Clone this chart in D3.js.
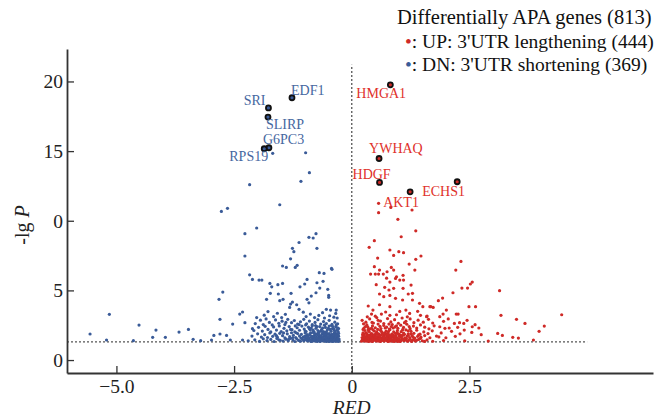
<!DOCTYPE html>
<html>
<head>
<meta charset="utf-8">
<script src="https://cdn.jsdelivr.net/npm/d3@7"></script>
<style>
    body { margin: 0; background: #fff; }
    #chart { width: 668px; height: 418px; }
    text { font-family: "Liberation Serif", "Times New Roman", serif; }
</style>
</head>
<body>
<div id="chart"></div>
<script>

// tick labels as printed in the figure
let xTickValues = [-5, -2.5, 0, 2.5]
let xTickLabels = ["\u22125.0", "\u22122.5", "0", "2.5"]
let yTickValues = [0, 5, 10, 15, 20]
let yTickLabels = ["0", "5", "0", "15", "20"]

// legend text
let legendTitle = "Differentially APA genes (813)"
let legendItems = [": UP: 3'UTR lengthening (444)", ": DN: 3'UTR shortening (369)"]

// threshold, -lg(0.05)
let pThreshold = 1.3

// labelled genes [name, RED, -lg P]
let upGenes = [
    ["HMGA1", 0.82, 19.76],
    ["YWHAQ", 0.58, 14.47],
    ["HDGF", 0.59, 12.75],
    ["AKT1", 1.24, 12.08],
    ["ECHS1", 2.24, 12.80]
]
let dnGenes = [
    ["EDF1", -1.27, 18.83],
    ["SRI", -1.77, 18.10],
    ["SLIRP", -1.78, 17.44],
    ["G6PC3", -1.76, 15.24],
    ["RPS19", -1.86, 15.17]
]

// DN genes (3'UTR shortening) [RED, -lg P]
let dnPoints = [
    [-5.56,1.87],[-5.21,1.44],[-5.15,3.28],[-4.64,1.39],[-4.52,2.51],[-4.23,1.63],[-4.16,2.15],[-3.96,1.63],
    [-3.67,2.01],[-3.47,2.20],[-3.37,1.49],[-3.21,1.39],[-2.98,1.44],[-2.93,1.77],[-2.80,1.87],[-2.80,2.92],
    [-2.82,4.36],[-2.74,4.88],[-2.66,1.77],[-2.58,1.44],[-2.53,2.58],[-2.38,3.30],[-2.32,3.45],[-2.27,2.68],
    [-2.32,1.44],[-2.17,6.12],[-2.11,5.79],[-2.11,2.25],[-1.97,5.74],[-1.91,5.74],[-1.74,5.50],[-1.70,5.26],
    [-1.57,5.41],[-1.47,5.50],[-1.47,6.75],[-1.39,6.65],[-1.20,6.65],[-1.16,6.80],[-1.81,4.36],[-1.73,4.79],
    [-1.56,4.74],[-1.53,4.26],[-1.46,4.36],[-1.29,4.79],[-1.10,5.26],[-1.00,5.46],[-0.95,5.79],[-0.69,6.27],
    [-0.59,6.22],[-0.42,6.51],[-0.61,5.65],[-0.51,5.08],[-0.74,5.55],[-0.68,5.17],[-0.49,4.64],[-0.49,4.50],
    [-0.76,4.83],[-0.86,4.59],[-0.95,4.36],[-0.91,4.11],[-1.26,4.16],[-1.30,4.02],[-1.32,3.78],[-1.17,3.97],
    [-1.12,3.64],[-0.33,3.59],[-0.34,3.35],[-0.45,3.59],[-0.54,3.64],[-0.62,3.40],
    [-1.68,14.84],[-0.98,14.88],[-0.90,13.45],[-1.08,12.83],[-2.17,12.59],[-1.53,11.15],[-2.77,10.67],
    [-2.64,10.89],[-2.02,9.48],[-2.27,9.07],[-0.76,9.07],[-0.91,8.81],[-0.82,8.76],[-1.12,8.44],[-1.26,8.02],
    [-1.23,7.78],[-0.74,8.02],[-2.27,7.47],[-1.30,7.27],[-0.43,6.58],
    [-2.02,3.05],[-1.86,3.22],[-1.78,3.48],[-1.66,3.12],[-1.58,3.36],[-1.49,3.05],[-1.41,3.28],[-1.03,3.44],
    [-0.97,3.12],[-0.88,3.30],[-0.79,3.05],[-0.70,3.20],[-0.58,3.02],[-0.47,3.18],[-0.38,3.08],[-0.31,3.02],
    [-2.05,2.62],[-1.94,2.86],[-1.88,2.55],[-1.82,2.95],[-1.75,2.70],[-1.69,2.52],[-1.62,2.88],[-1.55,2.64],
    [-1.48,2.79],[-1.42,2.55],[-1.36,2.92],[-1.28,2.68],[-1.22,2.84],[-1.15,2.58],[-1.09,2.75],[-1.02,2.92],
    [-0.96,2.60],[-0.90,2.80],[-0.84,2.54],[-0.78,2.70],[-0.72,2.90],[-0.66,2.58],[-0.60,2.76],[-0.54,2.62],
    [-0.48,2.85],[-0.42,2.56],[-0.36,2.72],[-0.30,2.60],
    [-2.08,2.12],[-1.98,2.35],[-1.90,2.08],[-1.84,2.42],[-1.78,2.20],[-1.72,2.02],[-1.66,2.38],[-1.60,2.15],
    [-1.54,2.45],[-1.50,2.05],[-1.44,2.28],[-1.38,2.10],[-1.33,2.40],[-1.27,2.18],[-1.21,2.02],[-1.16,2.32],
    [-1.11,2.14],[-1.06,2.44],[-1.01,2.22],[-0.97,2.05],[-0.92,2.36],[-0.88,2.16],[-0.84,2.46],[-0.80,2.02],
    [-0.76,2.28],[-0.72,2.12],[-0.68,2.40],[-0.64,2.20],[-0.60,2.04],[-0.56,2.34],[-0.52,2.15],[-0.48,2.44],
    [-0.44,2.06],[-0.41,2.26],[-0.37,2.12],[-0.34,2.38],[-0.31,2.18],[-0.29,2.05],
    [-2.12,1.72],[-2.00,1.88],[-1.92,1.65],[-1.85,1.82],[-1.79,1.62],[-1.74,1.95],[-1.68,1.70],[-1.63,1.86],
    [-1.58,1.64],[-1.53,1.92],[-1.47,1.75],[-1.42,1.60],[-1.37,1.88],[-1.32,1.68],[-1.28,1.96],[-1.24,1.78],
    [-1.19,1.62],[-1.15,1.90],[-1.11,1.72],[-1.07,1.85],[-1.03,1.64],[-0.99,1.94],[-0.96,1.76],[-0.92,1.62],
    [-0.89,1.88],[-0.85,1.70],[-0.82,1.98],[-0.79,1.80],[-0.75,1.65],[-0.72,1.92],[-0.69,1.74],[-0.66,1.60],
    [-0.63,1.86],[-0.60,1.68],[-0.57,1.96],[-0.54,1.78],[-0.51,1.62],[-0.48,1.90],[-0.45,1.72],[-0.42,1.84],
    [-0.40,1.64],[-0.37,1.94],[-0.35,1.76],[-0.32,1.66],[-0.30,1.86],[-0.28,1.70],
    [-2.20,1.38],[-2.06,1.45],[-1.96,1.34],[-1.88,1.52],[-1.80,1.40],[-1.72,1.48],[-1.65,1.33],[-1.59,1.55],
    [-1.52,1.42],[-1.46,1.36],[-1.40,1.50],[-1.35,1.39],[-1.30,1.56],[-1.25,1.44],[-1.21,1.33],[-1.17,1.52],
    [-1.13,1.41],[-1.09,1.35],[-1.05,1.50],[-1.01,1.42],[-0.98,1.56],[-0.94,1.37],[-0.91,1.47],[-0.87,1.33],
    [-0.84,1.54],[-0.81,1.43],[-0.78,1.36],[-0.75,1.50],[-0.72,1.40],[-0.70,1.57],[-0.67,1.34],[-0.64,1.46],
    [-0.62,1.38],[-0.59,1.53],[-0.56,1.42],[-0.54,1.33],[-0.51,1.49],[-0.49,1.39],[-0.46,1.56],[-0.44,1.35],
    [-0.41,1.45],[-0.39,1.52],[-0.37,1.37],[-0.35,1.48],[-0.33,1.40],[-0.31,1.55],[-0.29,1.34],[-0.28,1.44],
    [-0.27,1.51],
    [-0.98,2.52],[-0.86,2.30],[-0.77,2.48],[-0.65,2.10],[-0.58,2.50],[-0.50,2.28],[-0.43,2.48],[-0.38,2.22],
    [-0.33,2.52],[-0.30,2.32],[-0.95,1.83],[-0.87,1.95],[-0.80,1.58],[-0.73,1.82],[-0.62,1.94],[-0.55,1.70],
    [-0.47,1.80],[-0.39,1.70],[-0.34,1.90],[-0.29,1.78],[-0.93,1.42],[-0.85,1.38],[-0.76,1.44],[-0.68,1.50],
    [-0.61,1.45],[-0.53,1.40],[-0.45,1.49],[-0.40,1.34],[-0.36,1.55],[-0.32,1.45],[-1.30,2.20],[-1.18,1.96],
    [-1.08,1.58],[-1.34,1.50],[-1.12,2.55],
    [-1.02,1.38],[-0.97,1.48],[-0.92,1.55],[-0.88,1.43],[-0.83,1.36],[-0.80,1.49],[-0.77,1.57],[-0.73,1.33],
    [-0.71,1.46],[-0.66,1.54],[-0.63,1.41],[-0.58,1.36],[-0.55,1.56],[-0.52,1.45],[-0.48,1.33],[-0.43,1.52],
    [-0.38,1.43],[-0.34,1.35],[-0.30,1.50],[-0.27,1.38],
    [-1.00,1.70],[-0.94,1.66],[-0.90,1.78],[-0.86,1.62],[-0.81,1.72],[-0.77,1.88],[-0.74,1.60],[-0.70,1.84],
    [-0.65,1.72],[-0.61,1.58],[-0.58,1.82],[-0.52,1.88],[-0.49,1.68],[-0.43,1.62],[-0.38,1.82],[-0.33,1.74],
    [-0.28,1.92],
    [-0.99,2.08],[-0.90,2.24],[-0.82,2.15],[-0.74,2.40],[-0.69,2.02],[-0.62,2.30],[-0.54,2.02],[-0.46,2.20],
    [-0.40,2.40],[-0.35,2.04],[-0.28,2.26],
    [-1.45,1.95],[-1.25,1.62],[-1.55,1.45],[-1.40,2.70],[-1.60,1.75],[-1.20,2.45]
]

// UP genes (3'UTR lengthening) [RED, -lg P]
let upPoints = [
    [0.57,11.25],[0.83,10.96],[1.28,10.77],[0.57,10.58],[0.98,10.10],[1.36,9.28],[1.05,8.85],[0.48,8.57],
    [0.37,8.09],[0.81,7.90],[0.89,7.51],[1.00,7.78],[1.10,7.71],[0.55,7.32],[1.47,7.47],[1.36,7.23],
    [1.22,6.89],[1.34,6.46],[0.48,6.70],[0.59,6.46],[0.67,6.17],[0.75,6.34],[0.84,6.65],[0.89,6.46],
    [0.95,5.98],[1.09,6.08],[1.02,5.74],[2.32,7.08],[2.21,6.46],[2.15,4.83],[2.34,5.17],[2.46,5.17],
    [2.52,5.46],[2.56,5.60],[3.14,4.98],[1.93,4.45],[1.84,4.26],[1.73,3.78],[1.66,3.83],[1.59,3.11],
    [3.17,3.21],[3.50,2.92],[3.68,2.63],[4.46,3.25],[4.09,2.44],[3.98,2.06],[3.10,1.91],[3.20,1.77],
    [3.42,1.63],[3.54,1.58],[3.86,1.44],[2.75,1.82],[2.62,2.54],[2.56,2.39],[2.39,2.15],[2.49,3.83],
    [2.63,3.83],[2.22,3.30],[2.26,3.30],[2.18,2.63],[2.29,2.68],[2.38,2.63],[2.01,3.59],[2.07,2.30],
    [2.12,2.06],[1.87,2.39],[1.80,1.72],[1.87,3.11],[1.94,3.30],[1.44,4.07],[1.51,3.83],[1.68,3.83],
    [1.60,3.16],[1.46,3.21],[1.29,4.31],[1.23,3.35],[1.15,3.59],[1.02,3.49],[0.81,3.21],[0.81,3.83],
    [0.59,3.97],[0.45,3.59],[0.35,3.88],[0.42,3.30],[0.68,4.55],[0.81,4.64],[0.93,4.43],[1.08,4.31],
    [1.20,4.74],[1.29,4.79],[0.59,4.74],[0.52,5.41],[0.70,5.22],[0.79,5.03],[0.89,5.15],[1.09,5.15],
    [1.26,5.38],[1.10,5.74],[0.40,6.17],[0.50,6.17],[0.57,6.17],[0.74,5.88],[0.81,5.60],[0.93,5.86],
    [0.30,2.72],[0.38,2.95],[0.46,2.66],[0.53,3.05],[0.61,2.80],[0.68,2.62],[0.76,2.98],[0.83,2.74],
    [0.91,2.90],[0.99,2.64],[1.07,3.02],[1.15,2.78],[1.24,2.95],[1.32,2.68],[1.41,2.86],[1.52,2.72],
    [1.63,2.92],[1.72,2.66],[1.95,2.78],[2.05,2.95],[2.45,2.85],
    [0.26,2.30],[0.32,2.52],[0.38,2.24],[0.44,2.45],[0.50,2.32],[0.56,2.58],[0.62,2.26],[0.68,2.48],
    [0.74,2.36],[0.80,2.22],[0.86,2.55],[0.92,2.38],[0.98,2.28],[1.04,2.50],[1.10,2.34],[1.17,2.57],
    [1.24,2.25],[1.31,2.44],[1.38,2.30],[1.46,2.52],[1.55,2.36],[1.64,2.24],[1.75,2.46],[1.98,2.28],
    [2.25,2.35],[2.70,2.30],
    [0.24,1.95],[0.28,2.12],[0.33,1.84],[0.37,2.05],[0.41,1.90],[0.45,2.16],[0.49,1.82],[0.53,2.00],
    [0.57,1.88],[0.61,2.14],[0.65,1.96],[0.69,1.83],[0.73,2.08],[0.77,1.92],[0.81,2.18],[0.85,1.86],
    [0.89,2.02],[0.93,1.90],[0.97,2.12],[1.01,1.84],[1.05,2.04],[1.10,1.94],[1.15,2.16],[1.20,1.88],
    [1.26,2.06],[1.32,1.92],[1.38,2.14],[1.45,1.86],[1.53,2.02],[1.62,1.90],[1.71,2.10],[1.90,1.95],
    [2.30,1.88],[2.55,1.98],
    [0.22,1.62],[0.25,1.75],[0.29,1.58],[0.32,1.70],[0.35,1.64],[0.38,1.78],[0.41,1.60],[0.44,1.72],
    [0.47,1.66],[0.50,1.76],[0.53,1.57],[0.56,1.68],[0.59,1.62],[0.62,1.79],[0.65,1.60],[0.68,1.70],
    [0.71,1.58],[0.74,1.74],[0.77,1.64],[0.80,1.77],[0.84,1.59],[0.87,1.69],[0.90,1.63],[0.94,1.76],
    [0.97,1.58],[1.01,1.70],[1.05,1.64],[1.09,1.78],[1.13,1.60],[1.18,1.72],[1.23,1.62],[1.28,1.75],
    [1.34,1.58],[1.40,1.70],[1.47,1.64],[1.55,1.76],[1.66,1.60],[1.85,1.66],[2.00,1.60],[2.20,1.70],
    [0.21,1.35],[0.23,1.48],[0.26,1.40],[0.28,1.52],[0.31,1.36],[0.33,1.45],[0.36,1.33],[0.39,1.50],
    [0.42,1.42],[0.44,1.34],[0.47,1.53],[0.50,1.44],[0.52,1.37],[0.55,1.49],[0.58,1.40],[0.61,1.33],
    [0.64,1.51],[0.66,1.43],[0.69,1.36],[0.72,1.48],[0.75,1.39],[0.78,1.54],[0.81,1.35],[0.84,1.46],
    [0.87,1.41],[0.90,1.33],[0.93,1.50],[0.96,1.38],[0.99,1.45],[1.03,1.34],[1.07,1.52],[1.11,1.40],
    [1.15,1.47],[1.19,1.35],[1.24,1.50],[1.29,1.42],[1.35,1.36],[1.42,1.48],[1.50,1.38],[1.60,1.45],
    [1.72,1.35],[1.95,1.40],[2.40,1.38],[2.90,1.36],
    [0.27,1.88],[0.34,2.38],[0.43,2.70],[0.52,1.92],[0.60,2.42],[0.70,1.96],[0.79,2.58],[0.88,2.30],
    [0.96,1.98],[1.12,2.68],[1.22,2.40],[0.30,1.66],[0.40,1.46],[0.48,1.60],[0.57,1.52],[0.67,1.66],
    [0.76,1.50],[0.86,1.74],[0.95,1.52],[1.04,1.78],[1.16,1.56],[1.26,1.88],[0.35,2.20],[0.63,3.30],
    [0.95,3.25],[1.18,3.10],[0.50,3.15],[0.25,2.60],[0.72,3.45],[1.40,3.50],
    [0.22,1.42],[0.25,1.56],[0.28,1.37],[0.31,1.47],[0.34,1.55],[0.37,1.40],[0.40,1.36],[0.43,1.56],
    [0.46,1.40],[0.49,1.50],[0.53,1.46],[0.56,1.36],[0.60,1.55],[0.63,1.39],[0.67,1.50],[0.70,1.42],
    [0.73,1.56],[0.77,1.34],[0.80,1.44],[0.83,1.52],[0.86,1.36],[0.89,1.48],[0.92,1.40],[0.95,1.57],
    [0.98,1.33],[1.01,1.50],[1.05,1.40],[1.09,1.46],[1.13,1.54],[1.17,1.38],[1.22,1.44],[1.27,1.33],
    [1.32,1.50],[1.38,1.42],[1.46,1.55],[1.55,1.34],
    [0.23,1.82],[0.27,1.70],[0.31,1.95],[0.36,1.75],[0.40,1.68],[0.43,1.88],[0.47,1.78],[0.51,1.66],
    [0.55,1.85],[0.60,1.72],[0.64,1.84],[0.68,1.62],[0.72,1.90],[0.76,1.80],[0.82,1.68],[0.88,1.80],
    [0.92,1.70],[0.99,1.88],[1.06,1.72],[1.12,1.85],[1.20,1.78],[1.30,1.66],[1.42,1.80],
    [0.24,2.20],[0.29,2.40],[0.36,2.10],[0.42,2.28],[0.48,2.08],[0.55,2.20],[0.63,2.05],[0.71,2.30],
    [0.78,2.05],[0.84,2.40],[0.95,2.46],[1.08,2.18],[1.20,2.10],[0.22,2.85],[0.33,3.10],[0.56,2.85]
]


class VolcanoVis {

    constructor(parentElement) {
        this.parentElement = parentElement
        this.initVis()
    }

    initVis() {
        let vis = this

        vis.margin = {top: 49, right: 15, bottom: 45, left: 67}
        vis.width = 668 - vis.margin.left - vis.margin.right
        vis.height = 418 - vis.margin.top - vis.margin.bottom

        vis.colors = {up: "#cf2a27", dn: "#3a5b98", upText: "#e0312b", dnText: "#46679f"}

        vis.svg = d3.select("#" + vis.parentElement).append("svg")
            .attr("width", 668)
            .attr("height", 418)

        vis.g = vis.svg.append("g")
            .attr("transform", `translate(${vis.margin.left}, ${vis.margin.top})`)

        // scales
        vis.x = d3.scaleLinear()
            .domain([-6.05, 6.4])
            .range([0, vis.width])

        vis.y = d3.scaleLinear()
            .domain([-0.93, 22.33])
            .range([vis.height, 0])

        vis.wrangleData()
    }

    wrangleData() {
        let vis = this

        vis.upData = upPoints.map(d => ({red: d[0], p: d[1]}))
        vis.dnData = dnPoints.map(d => ({red: d[0], p: d[1]}))

        // label offsets in px: [dx, dy, anchor]
        let offsets = {
            HMGA1: [-34, 13, "start"], YWHAQ: [-10, -5, "start"], HDGF: [-27, -3, "start"],
            AKT1: [-27, 15, "start"], ECHS1: [-35, 14, "start"],
            EDF1: [-1, -3, "start"], SRI: [-3, -3, "end"], SLIRP: [-2, 12, "start"],
            G6PC3: [-6, -4, "start"], RPS19: [4, 12, "end"]
        }

        vis.labelData = upGenes.map(d => ({name: d[0], red: d[1], p: d[2], type: "up", off: offsets[d[0]]}))
            .concat(dnGenes.map(d => ({name: d[0], red: d[1], p: d[2], type: "dn", off: offsets[d[0]]})))

        vis.updateVis()
    }

    updateVis() {
        let vis = this

        // threshold lines
        vis.g.append("line")
            .attr("x1", vis.x(0)).attr("x2", vis.x(0))
            .attr("y1", vis.y(-0.93)).attr("y2", vis.y(21.2))
            .attr("stroke", "#555")
            .attr("stroke-width", 1.3)
            .attr("stroke-dasharray", "2,2")

        vis.g.append("line")
            .attr("x1", 0).attr("x2", vis.x(5))
            .attr("y1", vis.y(pThreshold)).attr("y2", vis.y(pThreshold))
            .attr("stroke", "#555")
            .attr("stroke-width", 1.3)
            .attr("stroke-dasharray", "2,2")

        // points
        vis.g.selectAll(".dn")
            .data(vis.dnData)
            .enter()
            .append("circle")
            .attr("class", "dn")
            .attr("cx", d => vis.x(d.red))
            .attr("cy", d => vis.y(d.p))
            .attr("r", 1.6)
            .attr("fill", vis.colors.dn)

        vis.g.selectAll(".up")
            .data(vis.upData)
            .enter()
            .append("circle")
            .attr("class", "up")
            .attr("cx", d => vis.x(d.red))
            .attr("cy", d => vis.y(d.p))
            .attr("r", 1.6)
            .attr("fill", vis.colors.up)

        // highlighted genes
        vis.g.selectAll(".hl")
            .data(vis.labelData)
            .enter()
            .append("circle")
            .attr("class", "hl")
            .attr("cx", d => vis.x(d.red))
            .attr("cy", d => vis.y(d.p))
            .attr("r", 2.5)
            .attr("fill", d => d.type == "up" ? vis.colors.up : vis.colors.dn)
            .attr("stroke", "#111")
            .attr("stroke-width", 1.8)

        vis.g.selectAll(".gene-label")
            .data(vis.labelData)
            .enter()
            .append("text")
            .attr("class", "gene-label")
            .attr("x", d => vis.x(d.red) + d.off[0])
            .attr("y", d => vis.y(d.p) + d.off[1])
            .attr("text-anchor", d => d.off[2])
            .attr("font-size", 14)
            .attr("fill", d => d.type == "up" ? vis.colors.upText : vis.colors.dnText)
            .text(d => d.name)

        // axes
        let xAxis = d3.axisBottom(vis.x)
            .tickValues(xTickValues)
            .tickFormat((d, i) => xTickLabels[i])
            .tickSizeInner(-7)
            .tickSizeOuter(0)
            .tickPadding(6)

        let yAxis = d3.axisLeft(vis.y)
            .tickValues(yTickValues)
            .tickFormat((d, i) => yTickLabels[i])
            .tickSizeInner(-7)
            .tickSizeOuter(0)
            .tickPadding(4)

        let xg = vis.g.append("g")
            .attr("transform", `translate(0, ${vis.height})`)
            .call(xAxis)

        let yg = vis.g.append("g")
            .call(yAxis)

        for (let ax of [xg, yg]) {
            ax.select(".domain").attr("stroke", "#333").attr("stroke-width", 1.8)
            ax.selectAll(".tick line").attr("stroke", "#333").attr("stroke-width", 1.3)
            ax.selectAll(".tick text")
                .attr("font-family", "Liberation Serif, Times New Roman, serif")
                .attr("font-size", 19.5)
                .attr("fill", "#222")
        }

        // axis titles
        vis.svg.append("text")
            .attr("x", vis.margin.left + vis.x(0))
            .attr("y", 414)
            .attr("text-anchor", "middle")
            .attr("font-size", 19.5)
            .attr("font-style", "italic")
            .attr("fill", "#222")
            .text("RED")

        let yTitle = vis.svg.append("text")
            .attr("transform", "translate(29, 225) rotate(-90)")
            .attr("text-anchor", "middle")
            .attr("font-size", 20)
            .attr("fill", "#222")
        yTitle.append("tspan").text("-lg ")
        yTitle.append("tspan").attr("font-style", "italic").text("P")

        // legend
        vis.legend = vis.svg.append("g")
            .attr("class", "legend")

        vis.legend.append("text")
            .attr("x", 397)
            .attr("y", 24)
            .attr("font-size", 20.5)
            .attr("fill", "#111")
            .text(legendTitle)

        let legendColors = [vis.colors.up, vis.colors.dn]
        legendItems.forEach((item, i) => {
            let t = vis.legend.append("text")
                .attr("x", 405)
                .attr("y", 48 + i * 23)
                .attr("font-size", 19.5)
                .attr("fill", "#111")
            t.append("tspan").attr("fill", legendColors[i]).text("\u2022")
            t.append("tspan").text(item)
        })
    }
}

new VolcanoVis("chart")

</script>
</body>
</html>
